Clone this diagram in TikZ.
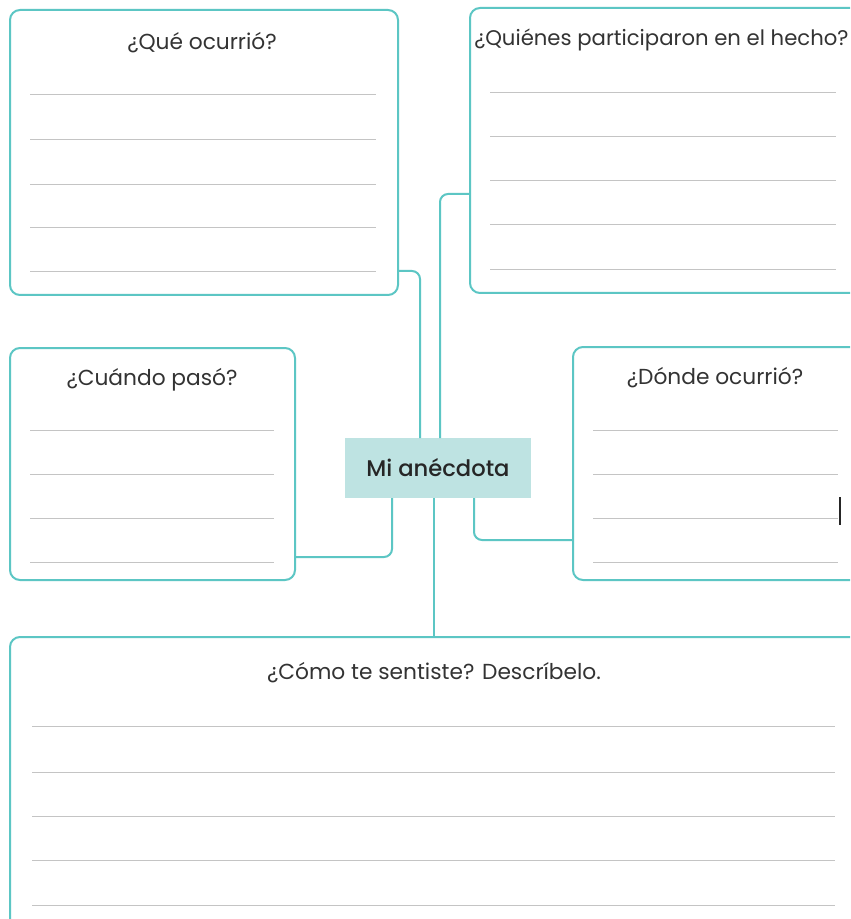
\documentclass[tikz,border=0pt]{standalone}
\usepackage{fontspec}
\setmainfont{Poppins}
\newfontfamily\medfont{Poppins Medium}
\definecolor{teal1}{HTML}{5CC6C4}
\definecolor{tealfill}{HTML}{BEE3E2}
\definecolor{ruleg}{HTML}{C4C4C4}
\definecolor{txt}{HTML}{333333}
\tikzset{
  box/.style={draw=teal1, line width=1.5pt, rounded corners=7.5pt, rectangle, inner sep=0pt, outer sep=0pt},
  conn/.style={draw=teal1, line width=1.5pt, rounded corners=6pt},
  wline/.style={draw=ruleg, line width=0.75pt},
  title/.style={text=txt, font=\fontsize{16.3}{19}\selectfont, inner sep=0pt},
}
\begin{document}
\begin{tikzpicture}[x=0.75pt,y=-0.75pt]
\clip (0,0) rectangle (850,919);
\fill[white] (0,0) rectangle (850,919);
% boxes
\node[box, minimum width=291pt, minimum height=213.75pt] (que) at (204,152.5) {};
\node[box, minimum width=307.5pt, minimum height=213.75pt] (quienes) at (675,150.5) {};
\node[box, minimum width=213.75pt, minimum height=174pt] (cuando) at (152.5,464) {};
\node[box, minimum width=230.25pt, minimum height=174.75pt] (donde) at (726.5,463.5) {};
\node[box, minimum width=652.5pt, minimum height=242.25pt] (como) at (445,798.5) {};
\node[fill=tealfill, minimum width=139.5pt, minimum height=45pt, inner sep=0pt, outer sep=0pt] (mid) at (438,468)
  {\medfont\fontsize{17}{20}\selectfont\color{black!85}Mi anécdota};
% titles
\node[title, anchor=base] (tque) at (202,50) {¿Qué ocurrió?};
\node[title, anchor=base west, font=\fontsize{15.9}{19}\selectfont] (tqui) at (474,46) {¿Quiénes participaron en el hecho?};
\node[title, anchor=base] (tcua) at (152,385) {¿Cuándo pasó?};
\node[title, anchor=base] (tdon) at (715,384) {¿Dónde ocurrió?};
\node[title, anchor=base] (tcom) at (434,679) {¿Cómo te sentiste? Descríbelo.};
% writing lines
\foreach \y in {95,140,185,228,272} \draw[wline] (30,\y) -- (376,\y);
\foreach \y in {93,137,181,225,270} \draw[wline] (490,\y) -- (836,\y);
\foreach \y in {430,474,518,562} \draw[wline] (30,\y) -- (274,\y);
\foreach \y in {430,474,518,562} \draw[wline] (593,\y) -- (838,\y);
\foreach \y in {726,772,816,860,905} \draw[wline] (32,\y) -- (835,\y);
% cursor mark
\draw[black!85, line width=1.5pt] (840,497) -- (840,525);
% connectors
\coordinate (ya) at (0,271); \coordinate (xa) at (420,0);
\coordinate (yb) at (0,194); \coordinate (xb) at (440,0);
\coordinate (yc) at (0,557); \coordinate (xc) at (392,0);
\coordinate (yd) at (0,540); \coordinate (xd) at (474,0);
\coordinate (xe) at (434,0);
\draw[conn] (que.east |- ya) -| (xa |- mid.north);
\draw[conn] (quienes.west |- yb) -| (xb |- mid.north);
\draw[conn] (xc |- mid.south) |- (cuando.east |- yc);
\draw[conn] (xd |- mid.south) |- (donde.west |- yd);
\draw[conn] (xe |- mid.south) -- (xe |- como.north);
\end{tikzpicture}
\end{document}
